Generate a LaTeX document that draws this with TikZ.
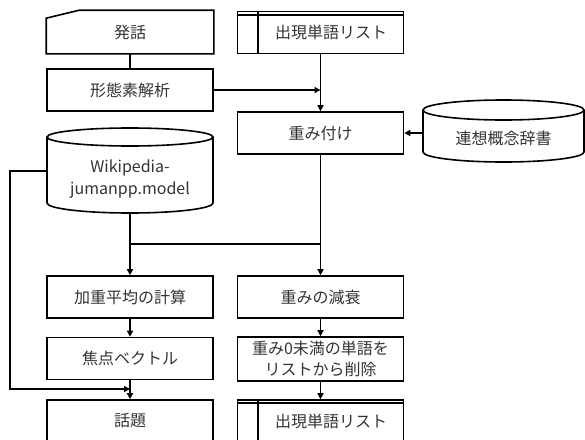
\documentclass[tikz,border=0pt]{standalone}
\usepackage{fontspec}
\setmainfont{Noto Sans CJK JP}
\usetikzlibrary{arrows.meta}
\begin{document}
\begin{tikzpicture}[x=1pt,y=1pt,
  lw/.style={line width=1.6pt},
  box/.style={lw, draw, minimum width=166pt, minimum height=42pt, inner sep=0pt,
    align=center, font=\fontsize{16}{21}\selectfont, text=black!80},
  txt/.style={minimum width=166pt, inner sep=0pt, align=center,
    font=\fontsize{16}{22}\selectfont, text=black!80},
  conn/.style={line width=1.5pt},
  arr/.style={conn, -{Triangle[length=6pt,width=6pt]}}
]
\useasboundingbox (0,0) rectangle (585,-439);
\clip (0,0) rectangle (585,-439);

% left column
\node[box, draw=none] (hatsuwa) at (130,-32) {発話};
\draw[lw] ([yshift=-8pt]hatsuwa.north west) -- ([xshift=33pt]hatsuwa.north west)
  -- (hatsuwa.north east) -- (hatsuwa.south east) -- (hatsuwa.south west) -- cycle;
\node[box] (keitai) at (130,-90) {形態素解析};

\node[txt] (wiki) at (130,-179) {Wikipedia-\\jumanpp.model};
\draw[lw] (47,-137) -- (47,-203) arc[start angle=180, end angle=360, x radius=83pt, y radius=10pt] -- (213,-137);
\draw[lw] (130,-137) ellipse [x radius=83pt, y radius=9pt];
\coordinate (wikibot) at (130,-213);

\node[box] (kajuu) at (130,-297) {加重平均の計算};
\node[box] (shouten) at (130,-358.5) {焦点ベクトル};
\node[box] (wadai) at (130,-421) {話題};

% right column
\node[box] (list1) at (320.5,-32.5) {\hspace*{21pt}出現単語リスト};
\draw[lw] ([yshift=-4pt]list1.north west) -- ([yshift=-4pt]list1.north east);
\draw[lw] ([xshift=21pt]list1.north west) -- ([xshift=21pt]list1.south west);

\node[box] (omomi) at (320.5,-133) {重み付け};
\node[box] (genka) at (320.5,-297) {重みの減衰};
\node[box, minimum height=44pt] (zero) at (320.5,-359) {重み0未満の単語を\\リストから削除};
\node[box] (list2) at (320.5,-421) {\hspace*{21pt}出現単語リスト};
\draw[lw] ([yshift=-4pt]list2.north west) -- ([yshift=-4pt]list2.north east);
\draw[lw] ([xshift=21pt]list2.north west) -- ([xshift=21pt]list2.south west);

% dictionary cylinder
\node[txt, minimum width=161pt] (rensou) at (503.5,-138) {連想概念辞書};
\draw[lw] (423,-110) -- (423,-152) arc[start angle=180, end angle=360, x radius=80.5pt, y radius=10pt] -- (584,-110);
\draw[lw] (503.5,-110) ellipse [x radius=80.5pt, y radius=10pt];

% connectors
\draw[conn] (hatsuwa.south) -- (keitai.north);
\draw[arr] (keitai.east) -- (keitai.east -| omomi.north);
\draw[arr] (list1.south) -- (omomi.north);
\draw[arr] (rensou.west |- omomi.east) -- (omomi.east);
\draw[arr] (omomi.south) -- (genka.north);
\draw[arr] (wikibot) -- (kajuu.north);
\coordinate (jl) at (130,-244);
\coordinate (jr) at (320.5,-244);
\draw[conn] (jl) -- (jr);
\draw[arr] (kajuu.south) -- (shouten.north);
\draw[arr] (shouten.south) -- (wadai.north);
\coordinate (wl) at (10,-171);
\coordinate (wt) at (130,-389);
\draw[arr] ([yshift=8pt]wiki.west) -- (wl) |- (wt);
\draw[arr] (genka.south) -- (zero.north);
\draw[arr] (zero.south) -- (list2.north);
\end{tikzpicture}
\end{document}
